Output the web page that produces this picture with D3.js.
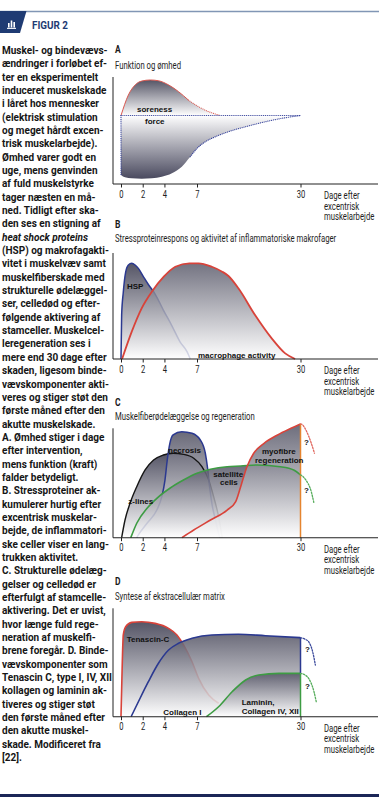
<!DOCTYPE html>
<html><head><meta charset="utf-8">
<script src="https://cdn.jsdelivr.net/npm/d3@7"></script>
<style>body{margin:0;background:#fff}svg{display:block}</style>
</head><body><svg id="c" width="379" height="800"></svg>
<script>
// ---------- DATA ----------
const tickDays = [0, 2, 4, 7, 30];
const axisLabel = ["Dage efter", "excentrisk", "muskelarbejde"];
const panelLetters = ["A", "B", "C", "D"];
const panelTitles = ["Funktion og ømhed",
  "Stressproteinrespons og aktivitet af inflammatoriske makrofager",
  "Muskelfiberødelæggelse og regeneration",
  "Syntese af ekstracellulær matrix"];
// A
const soreness = [[0,0],[0.68,19.2],[1.3,28.5],[1.9,32.2],[2.7,33.2],[3.45,32.5],[4.4,28.5],[5.3,22.3],[6.2,14.5],[7.36,8.2],[9.6,3.6],[11.1,1.4],[12.2,0]];
const force = [[0,-55.6],[0.37,-57.8],[0.99,-58.7],[1.91,-59],[2.84,-58.7],[3.76,-57.2],[4.69,-54],[5.6,-47.8],[6.38,-38.5],[7,-30.7],[8.85,-24.5],[11.1,-19.8],[14,-15.1],[17.8,-10.5],[22.2,-5.8],[25.9,-2.6],[30,0]];
// B
const hsp = [[0,0],[0.06,41.5],[0.21,63],[0.43,82],[0.68,88.7],[0.99,90.3],[1.3,88.7],[1.6,85.5],[2.06,77.8],[2.52,70.3],[3.14,61.3],[3.9,46.2],[4.7,31.1],[5.45,16],[6.08,7],[6.38,0]];
const macrophage = [[0.1,0],[0.99,25.8],[1.9,47.8],[2.84,63.5],[3.94,77.6],[5.0,87],[6.3,90.3],[7.36,90.3],[10.3,87],[12.6,82.4],[14.0,78.3],[16.2,66.7],[19.9,41.5],[23.6,19.5],[26.6,5.3],[28.8,0]];
// C
const zlines = [[0.06,0],[0.37,16.2],[0.83,31.4],[1.45,46.6],[2.22,61.9],[3.0,71],[3.9,75.6],[4.8,77.2],[5.75,76.2],[6.7,72.6],[8.1,64.9],[9.6,52.7],[10.7,37.5],[11.8,19.2],[12.6,0]];
const necrosis = [[1.45,0],[1.6,2.5],[2.4,13.2],[3.3,25.3],[3.76,37.5],[4.05,52.7],[4.26,71],[4.5,86.2],[4.8,93.9],[5.6,96.9],[6.54,95.4],[7.74,89.3],[8.85,77.2],[9.4,61.9],[9.8,46.6],[10.3,31.4],[11.1,16.2],[11.9,2.5],[12.1,0]];
const satellite = [[0.9,0],[1.45,13.2],[2.4,26.9],[3.3,36],[4.5,45.2],[5.75,52.7],[7,58.9],[10,62.5],[13.7,64.9],[16.7,65.5],[20.4,66.5],[25.5,64.9],[28.5,61.9],[30,57.5]];
const satelliteAfter = [[30,57.5],[31.2,52.7],[32.4,42],[33,31.4]];
const myofibre = [[5.6,0],[6.7,7],[10,16.2],[13.7,25.3],[15.6,33],[16.7,46.6],[18.1,64.9],[19.6,77.2],[21.9,86.3],[24.9,93.9],[27.9,100],[30,104]];
const myofibreAfter = [[30,104],[30.5,103],[31.2,98.4],[32.4,86.3],[33.1,77.2]];
// D
const tenascin = [[0,0],[0.12,50.7],[0.21,75.4],[0.43,83],[0.99,87],[1.9,87.6],[3.14,86.1],[4.38,81.5],[5.15,75.4],[5.77,66.1],[6.54,50.7],[7.36,35.4],[9.6,20],[11.8,12.4]];
const collagen1 = [[0.93,0],[1.6,13.8],[2.52,32.3],[3.45,49.3],[4.38,61.5],[5.3,67.7],[6.54,72.3],[10.3,75.4],[16.2,76],[22.2,74.7],[30,72.9]];
const collagen1After = [[30,72.9],[31,71.5],[31.8,69.2],[32.7,60],[33.3,47.7]];
const laminin = [[9.1,0],[11.8,9.2],[14.8,23],[17.8,33.9],[20.7,38.5],[25.2,40],[30,40]];
const lamininAfter = [[30,40],[31,38.5],[31.8,35.4],[33,23],[33.5,13.8]];
// caption
const captionLines = ["Muskel- og bindevævs-","ændringer i forløbet ef-","ter en eksperimentelt","induceret muskelskade","i låret hos mennesker","(elektrisk stimulation","og meget hårdt excen-","trisk muskelarbejde).","Ømhed varer godt en","uge, mens genvinden","af fuld muskelstyrke","tager næsten en må-","ned. Tidligt efter ska-","den ses en stigning af","_heat shock proteins_","(HSP) og makrofagakti-","vitet i muskelvæv samt","muskelfiberskade med","strukturelle ødelæggel-","ser, celledød og efter-","følgende aktivering af","stamceller. Muskelcel-","leregeneration ses i","mere end 30 dage efter","skaden, ligesom binde-","vævskomponenter akti-","veres og stiger støt den","første måned efter den","akutte muskelskade.","A. Ømhed stiger i dage","efter intervention,","mens funktion (kraft)","falder betydeligt.","B. Stressproteiner ak-","kumulerer hurtig efter","excentrisk muskelar-","bejde, de inflammatori-","ske celler viser en lang-","trukken aktivitet.","C. Strukturelle ødelæg-","gelser og celledød er","efterfulgt af stamcelle-","aktivering. Det er uvist,","hvor længe fuld rege-","neration af muskelfi-","brene foregår. D. Binde-","vævskomponenter som","Tenascin C, type I, IV, XII","kollagen og laminin ak-","tiveres og stiger støt","den første måned efter","den akutte muskel-","skade. Modificeret fra","[22]."];

// ---------- DRAW ----------
const svg = d3.select("#c");
const defs = svg.append("defs");
function grad(id, c0, c1) {
  const g = defs.append("linearGradient").attr("id", id).attr("x1",0).attr("y1",0).attr("x2",0).attr("y2",1);
  g.append("stop").attr("offset","0%").attr("stop-color",c0);
  g.append("stop").attr("offset","100%").attr("stop-color",c1);
}
grad("gd", "#555566", "#ffffff");
grad("gu", "#ffffff", "#4a4a5f");

const NAVY = "#1f3b73";
const RED = "#d8433a", BLUE = "#2b3990", GREEN = "#3d9c43", BLACK = "#151515";

function ctext(sel, x, y, s, size, weight, sx, anchor, fill, family) {
  return sel.append("text")
    .attr("transform", `translate(${x},${y}) scale(${sx},1)`)
    .attr("font-family", family || "Roboto, 'DejaVu Sans', sans-serif")
    .attr("font-size", size).attr("font-weight", weight)
    .attr("text-anchor", anchor || "start")
    .attr("fill", fill || "#1a1a1a")
    .text(s);
}

// header
svg.append("line").attr("x1",0).attr("x2",379).attr("y1",11.5).attr("y2",11.5).attr("stroke","#8196b5").attr("stroke-width",1.3);
svg.append("path").attr("d","M0,11 L26.5,11 L20,33 L0,33Z").attr("fill",NAVY);
const icon = svg.append("g").attr("fill","#fff");
icon.append("rect").attr("x",8).attr("y",23).attr("width",1.6).attr("height",4.5);
icon.append("rect").attr("x",10.7).attr("y",20.5).attr("width",1.6).attr("height",7);
icon.append("rect").attr("x",13.4).attr("y",22).attr("width",1.6).attr("height",5.5);
icon.append("rect").attr("x",7).attr("y",27.8).attr("width",9).attr("height",1.1);
ctext(svg, 32, 29, "FIGUR 2", 11.5, 700, 0.86, "start", NAVY);

// bottom bar
svg.append("rect").attr("x",0).attr("y",794).attr("width",379).attr("height",3).attr("fill","#1b2657");

// caption
const cap = svg.append("g");
captionLines.forEach((l, i) => {
  const it = l.startsWith("_");
  cap.append("text").attr("x", 2).attr("y", 54 + i * 13.34)
    .attr("font-family","Roboto, sans-serif").attr("font-size",10).attr("font-weight",700)
    .attr("font-style", it ? "italic" : "normal")
    .attr("fill","#161616").text(l.replace(/_/g,""));
});

// shared x scale
const x = d3.scaleLinear().domain([0,7,30]).range([121,197,300.5]);

const panels = [
  {letterY:53, titleY:68.5, top:77, axis:184},
  {letterY:228, titleY:241.5, top:253, axis:359},
  {letterY:406, titleY:420, top:428.3, axis:537.7},
  {letterY:585, titleY:600, top:608.3, axis:716.7}
];

function frame(p, i) {
  const g = svg.append("g");
  ctext(g, 115, p.letterY, panelLetters[i], 10, 700, 0.85);
  ctext(g, 115, p.titleY, panelTitles[i], 10.3, 400, 0.75, "start", "#1e1e1e");
  return g;
}
function axisFrame(p, g) {
  g.append("line").attr("x1",113).attr("x2",113).attr("y1",p.top).attr("y2",p.axis).attr("stroke","#222").attr("stroke-width",1);
  g.append("line").attr("x1",113).attr("x2",378).attr("y1",p.axis).attr("y2",p.axis).attr("stroke","#222").attr("stroke-width",1.1);
  const ax = g.append("g").attr("transform",`translate(0,${p.axis})`)
    .call(d3.axisBottom(x).tickValues(tickDays).tickSize(3.5).tickPadding(2).tickFormat(d3.format("d")));
  ax.select(".domain").remove();
  ax.selectAll("line").attr("stroke","#222");
  ax.selectAll("text").attr("font-family","Roboto, sans-serif").attr("font-size",11.5)
    .attr("fill","#1e1e1e").attr("transform","scale(0.66,1)");
  axisLabel.forEach((s, k) => ctext(g, 324, p.axis + 15 + k * 10.5, s, 10.3, 400, 0.75, "start", "#1e1e1e"));
}
function lbl(g, xx, yy, s, anchor) {
  g.append("text").attr("x",xx).attr("y",yy).attr("font-family","'Liberation Sans', Arial, sans-serif")
    .attr("font-size",8).attr("font-weight",700).attr("fill","#111").attr("text-anchor",anchor||"start").text(s);
}
function areaPath(g, data, y, fillId, op) {
  g.append("path").datum(data)
    .attr("d", d3.area().x(d=>x(d[0])).y0(y(0)).y1(d=>y(d[1])).curve(d3.curveMonotoneX))
    .attr("fill", `url(#${fillId})`).attr("fill-opacity", op == null ? 1 : op);
}
function linePath(g, data, y, color, w, dash) {
  g.append("path").datum(data)
    .attr("d", d3.line().x(d=>x(d[0])).y(d=>y(d[1])).curve(d3.curveMonotoneX))
    .attr("fill","none").attr("stroke",color).attr("stroke-width",w)
    .attr("stroke-dasharray", dash || null).attr("stroke-linecap", dash ? "round" : "butt");
}
function vline(g, day, v0, v1, y, color, w) {
  g.append("line").attr("x1",x(day)).attr("x2",x(day)).attr("y1",y(v0)).attr("y2",y(v1))
    .attr("stroke",color).attr("stroke-width",w);
}

// ---- Panel A ----
{
  const p = panels[0], g = frame(p, 0);
  const y = d3.scaleLinear().domain([-64,36]).range([p.axis, p.top]);
  areaPath(g, soreness, y, "gd");
  areaPath(g, force, y, "gu");
  linePath(g, soreness.filter(d=>d[0]<=6.2), y, "#d9574f", 1);
  linePath(g, soreness.filter(d=>d[0]>=6.2), y, "#d9574f", 1.1, "0.1,1.8");
  linePath(g, force.filter(d=>d[0]>=6.38), y, "#34409a", 1.2, "0.1,1.8");
  g.append("line").attr("x1",x(0)).attr("x2",x(30)).attr("y1",y(0)).attr("y2",y(0))
    .attr("stroke","#34409a").attr("stroke-width",1.2).attr("stroke-dasharray","0.1,1.8").attr("stroke-linecap","round");
  g.append("line").attr("x1",x(0)).attr("x2",x(0)).attr("y1",y(0)).attr("y2",y(force[0][1]))
    .attr("stroke","#34409a").attr("stroke-width",1.2).attr("stroke-dasharray","0.1,1.8").attr("stroke-linecap","round");
  axisFrame(p, g);
  lbl(g, 137, 112, "soreness");
  lbl(g, 145, 124, "force");
}
// ---- Panel B ----
{
  const p = panels[1], g = frame(p, 1);
  const y = d3.scaleLinear().domain([0,100]).range([p.axis, p.top]);
  areaPath(g, hsp, y, "gd");
  linePath(g, hsp, y, BLUE, 1.5);
  areaPath(g, macrophage, y, "gd", 0.82);
  linePath(g, macrophage, y, RED, 1.8);
  axisFrame(p, g);
  lbl(g, 127, 289, "HSP");
  lbl(g, 198, 357.5, "macrophage activity");
}
// ---- Panel C ----
{
  const p = panels[2], g = frame(p, 2);
  const y = d3.scaleLinear().domain([0,100]).range([p.axis, p.top]);
  areaPath(g, zlines, y, "gd");
  areaPath(g, necrosis, y, "gd", 0.88);
  linePath(g, zlines, y, BLACK, 1.4);
  linePath(g, necrosis, y, BLUE, 1.5);
  areaPath(g, satellite, y, "gd", 0.86);
  areaPath(g, myofibre, y, "gd", 0.86);
  linePath(g, satellite, y, GREEN, 1.6);
  linePath(g, myofibre, y, RED, 1.6);
  vline(g, 30, myofibre[myofibre.length-1][1], 0, y, "#e5842f", 1.5);
  linePath(g, myofibreAfter, y, "#e0665d", 1.3, "1.5,1.5");
  linePath(g, satelliteAfter, y, "#57ad5c", 1.3, "1.5,1.5");
  axisFrame(p, g);
  lbl(g, 168, 452.5, "necrosis");
  lbl(g, 262, 454.3, "myofibre");
  lbl(g, 255, 462.5, "regeneration");
  lbl(g, 213.3, 477, "satellite");
  lbl(g, 220, 485, "cells");
  lbl(g, 128.3, 504, "z-lines");
  lbl(g, 304, 445, "?");
  lbl(g, 304, 493, "?");
}
// ---- Panel D ----
{
  const p = panels[3], g = frame(p, 3);
  const y = d3.scaleLinear().domain([0,100]).range([p.axis, p.top]);
  areaPath(g, tenascin, y, "gd");
  linePath(g, tenascin, y, RED, 1.6);
  areaPath(g, collagen1, y, "gd", 0.86);
  areaPath(g, laminin, y, "gd", 0.86);
  linePath(g, collagen1, y, BLUE, 1.6);
  linePath(g, laminin, y, GREEN, 1.6);
  vline(g, 30, collagen1[collagen1.length-1][1], laminin[laminin.length-1][1], y, BLUE, 1.5);
  vline(g, 30, laminin[laminin.length-1][1], 0, y, GREEN, 1.5);
  linePath(g, collagen1After, y, "#3b4a9c", 1.3, "1.5,1.5");
  linePath(g, lamininAfter, y, "#57ad5c", 1.3, "1.5,1.5");
  axisFrame(p, g);
  lbl(g, 126.7, 641.5, "Tenascin-C");
  lbl(g, 163.3, 715, "Collagen I");
  lbl(g, 241.7, 704.5, "Laminin,");
  lbl(g, 241.7, 714, "Collagen IV, XII");
  lbl(g, 305, 652, "?");
  lbl(g, 305, 689, "?");
}
</script></body></html>
